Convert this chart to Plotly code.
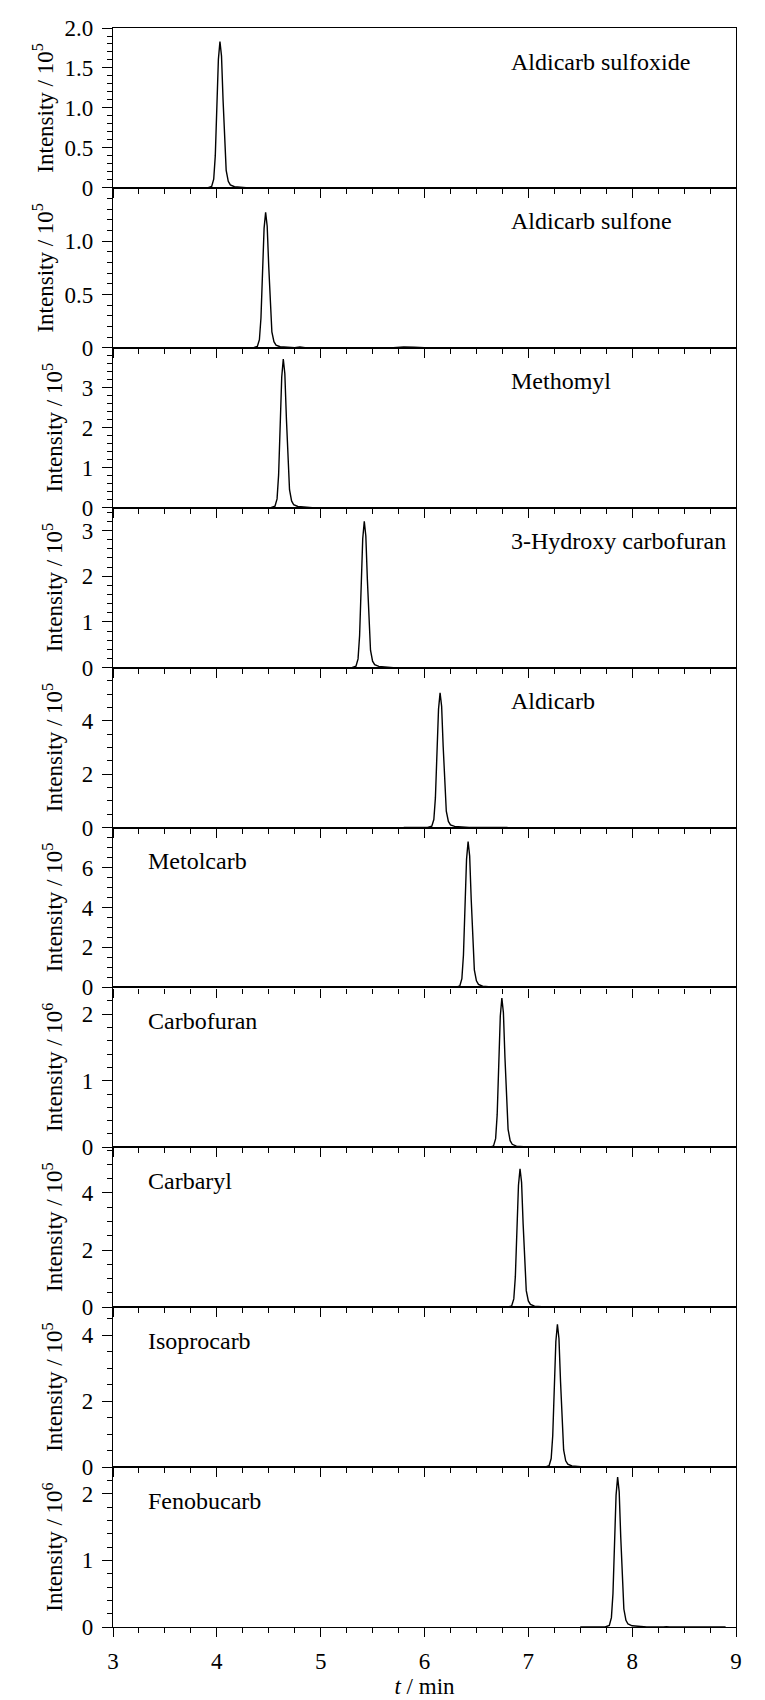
import plotly.graph_objects as go
from plotly.subplots import make_subplots

# Chromatogram data, intensity in units of the panel's y-axis (x 10^5 or x 10^6)
names = [
    "Aldicarb sulfoxide", "Aldicarb sulfone", "Methomyl", "3-Hydroxy carbofuran",
    "Aldicarb", "Metolcarb", "Carbofuran", "Carbaryl", "Isoprocarb", "Fenobucarb",
]
exponents = [5, 5, 5, 5, 5, 5, 6, 5, 5, 6]

t_sulfoxide = [3.80, 3.91, 3.95, 3.97, 3.985, 4.00, 4.015, 4.03, 4.045, 4.06, 4.075, 4.09, 4.11, 4.13, 4.17, 4.23, 4.31, 4.90]
i_sulfoxide = [0, 0, 0.018, 0.11, 0.40, 1.01, 1.61, 1.83, 1.65, 1.10, 0.55, 0.22, 0.082, 0.037, 0.015, 0.005, 0, 0]

t_sulfone = [3.90, 4.35, 4.39, 4.41, 4.425, 4.44, 4.455, 4.47, 4.485, 4.50, 4.515, 4.53, 4.55, 4.57, 4.61, 4.67, 4.75, 4.80, 4.85, 5.70, 5.80, 5.90, 6.00, 6.20]
i_sulfone = [0, 0, 0.013, 0.076, 0.28, 0.70, 1.12, 1.27, 1.14, 0.76, 0.38, 0.15, 0.057, 0.025, 0.010, 0.004, 0, 0.008, 0, 0, 0.008, 0.006, 0, 0]

t_methomyl = [4.30, 4.52, 4.56, 4.58, 4.595, 4.61, 4.625, 4.64, 4.655, 4.67, 4.685, 4.70, 4.72, 4.74, 4.78, 4.84, 4.92, 5.60]
i_methomyl = [0, 0, 0.037, 0.22, 0.82, 2.05, 3.27, 3.72, 3.35, 2.23, 1.12, 0.45, 0.17, 0.074, 0.030, 0.011, 0, 0]

t_hydroxy = [5.00, 5.30, 5.34, 5.36, 5.375, 5.39, 5.405, 5.42, 5.435, 5.45, 5.465, 5.48, 5.50, 5.52, 5.56, 5.62, 5.70, 6.20]
i_hydroxy = [0, 0, 0.032, 0.19, 0.70, 1.76, 2.82, 3.20, 2.88, 1.92, 0.96, 0.38, 0.14, 0.064, 0.026, 0.010, 0, 0]

t_aldicarb = [5.80, 6.03, 6.07, 6.09, 6.105, 6.12, 6.135, 6.15, 6.165, 6.18, 6.195, 6.21, 6.23, 6.25, 6.29, 6.35, 6.43, 6.80]
i_aldicarb = [0, 0, 0.051, 0.30, 1.11, 2.78, 4.44, 5.05, 4.55, 3.03, 1.52, 0.61, 0.23, 0.10, 0.041, 0.015, 0, 0]

t_metolcarb = [6.00, 6.30, 6.34, 6.36, 6.375, 6.39, 6.405, 6.42, 6.435, 6.45, 6.465, 6.48, 6.50, 6.52, 6.56, 6.62, 6.70, 7.00]
i_metolcarb = [0, 0, 0.073, 0.44, 1.61, 4.02, 6.42, 7.30, 6.57, 4.38, 2.19, 0.88, 0.33, 0.15, 0.058, 0.022, 0, 0]

t_carbofuran = [6.40, 6.625, 6.665, 6.685, 6.70, 6.715, 6.73, 6.745, 6.76, 6.775, 6.79, 6.805, 6.825, 6.845, 6.885, 6.945, 7.025, 7.40]
i_carbofuran = [0, 0, 0.022, 0.13, 0.49, 1.23, 1.97, 2.24, 2.02, 1.34, 0.67, 0.27, 0.10, 0.045, 0.018, 0.007, 0, 0]

t_carbaryl = [6.60, 6.80, 6.84, 6.86, 6.875, 6.89, 6.905, 6.92, 6.935, 6.95, 6.965, 6.98, 7.00, 7.02, 7.06, 7.12, 7.20, 7.50]
i_carbaryl = [0, 0, 0.049, 0.29, 1.07, 2.67, 4.27, 4.85, 4.37, 2.91, 1.46, 0.58, 0.22, 0.097, 0.039, 0.015, 0, 0]

t_isoprocarb = [7.00, 7.16, 7.20, 7.22, 7.235, 7.25, 7.265, 7.28, 7.295, 7.31, 7.325, 7.34, 7.36, 7.38, 7.42, 7.48, 7.56, 7.60, 7.63, 7.66, 8.00]
i_isoprocarb = [0, 0, 0.043, 0.26, 0.95, 2.38, 3.81, 4.33, 3.90, 2.60, 1.30, 0.52, 0.19, 0.087, 0.035, 0.013, 0, 0.012, 0.008, 0, 0]

t_fenobucarb = [7.50, 7.74, 7.78, 7.80, 7.815, 7.83, 7.845, 7.86, 7.875, 7.89, 7.905, 7.92, 7.94, 7.96, 8.00, 8.06, 8.14, 8.30, 8.33, 8.36, 8.90]
i_fenobucarb = [0, 0, 0.023, 0.14, 0.50, 1.24, 1.98, 2.25, 2.03, 1.35, 0.68, 0.27, 0.10, 0.045, 0.018, 0.007, 0, 0, 0.006, 0, 0]

times = [t_sulfoxide, t_sulfone, t_methomyl, t_hydroxy, t_aldicarb,
         t_metolcarb, t_carbofuran, t_carbaryl, t_isoprocarb, t_fenobucarb]
intensities = [i_sulfoxide, i_sulfone, i_methomyl, i_hydroxy, i_aldicarb,
               i_metolcarb, i_carbofuran, i_carbaryl, i_isoprocarb, i_fenobucarb]

# axis setup per panel
y_max = [2.0, 1.5, 4.0, 3.5, 6.0, 8.0, 2.4, 5.6, 4.85, 2.4]
y_ticks = [
    [0, 0.5, 1.0, 1.5, 2.0], [0, 0.5, 1.0], [0, 1, 2, 3], [0, 1, 2, 3], [0, 2, 4],
    [0, 2, 4, 6], [0, 1, 2], [0, 2, 4], [0, 2, 4], [0, 1, 2],
]
y_ticktext = [
    ["0", "0.5", "1.0", "1.5", "2.0"], ["0", "0.5", "1.0"], ["0", "1", "2", "3"],
    ["0", "1", "2", "3"], ["0", "2", "4"], ["0", "2", "4", "6"], ["0", "1", "2"],
    ["0", "2", "4"], ["0", "2", "4"], ["0", "1", "2"],
]
y_minor = [0.1, 0.1, 0.2, 0.2, 0.5, 0.5, 0.2, 0.5, 0.5, 0.2]
label_x = [0.636, 0.636, 0.636, 0.636, 0.636, 0.053, 0.053, 0.053, 0.053, 0.053]
title_gap = [4, 4, 12, 12, 12, 12, 12, 12, 12, 12]

FONT = "Liberation Serif, Times New Roman, serif"
n = len(names)

fig = make_subplots(rows=n, cols=1, shared_xaxes=True, vertical_spacing=0)

for idx in range(n):
    row = idx + 1
    fig.add_trace(
        go.Scatter(
            x=times[idx],
            y=intensities[idx],
            mode="lines",
            line=dict(color="black", width=1.4),
            showlegend=False,
        ),
        row=row,
        col=1,
    )
    fig.update_yaxes(
        range=[0, y_max[idx]],
        tickvals=y_ticks[idx],
        ticktext=y_ticktext[idx],
        ticks="outside",
        ticklen=10,
        tickwidth=1.2,
        tickcolor="black",
        ticklabelstandoff=4,
        minor=dict(dtick=y_minor[idx], tick0=0, ticks="outside", ticklen=5,
                   tickwidth=1.2, tickcolor="black", showgrid=False),
        showline=True,
        mirror=True,
        linecolor="black",
        linewidth=1.2,
        showgrid=False,
        zeroline=False,
        automargin=False,
        tickfont=dict(family=FONT, size=23, color="black"),
        title=dict(
            text=f"Intensity / 10<sup>{exponents[idx]}</sup>",
            font=dict(family=FONT, size=23, color="black"),
            standoff=title_gap[idx],
        ),
        row=row,
        col=1,
    )
    fig.update_xaxes(
        range=[3, 9],
        dtick=1,
        tick0=3,
        ticks="outside",
        ticklen=9,
        tickwidth=1.2,
        tickcolor="black",
        ticklabelstandoff=4,
        minor=dict(dtick=0.25, ticks="outside", ticklen=5, tickwidth=1.2,
                   tickcolor="black", showgrid=False),
        showline=True,
        mirror=True,
        linecolor="black",
        linewidth=1.2,
        showgrid=False,
        zeroline=False,
        automargin=False,
        tickfont=dict(family=FONT, size=23, color="black"),
        row=row,
        col=1,
    )
    axis_id = "" if row == 1 else str(row)
    fig.add_annotation(
        text=names[idx],
        xref=f"x{axis_id} domain",
        yref=f"y{axis_id} domain",
        x=label_x[idx],
        y=0.79,
        xanchor="left",
        yanchor="middle",
        showarrow=False,
        font=dict(family=FONT, size=24, color="black"),
    )

fig.update_xaxes(
    title=dict(text="<i>t</i> / min", font=dict(family=FONT, size=23, color="black"), standoff=4),
    row=n,
    col=1,
)

# page body adds an 8 px offset, so the figure is 8 px smaller each way
fig.update_layout(
    width=757,
    height=1692,
    margin=dict(l=105, r=29, t=20, b=73, pad=0),
    plot_bgcolor="white",
    paper_bgcolor="white",
    font=dict(family=FONT, color="black"),
)

fig.write_html("out.html")
